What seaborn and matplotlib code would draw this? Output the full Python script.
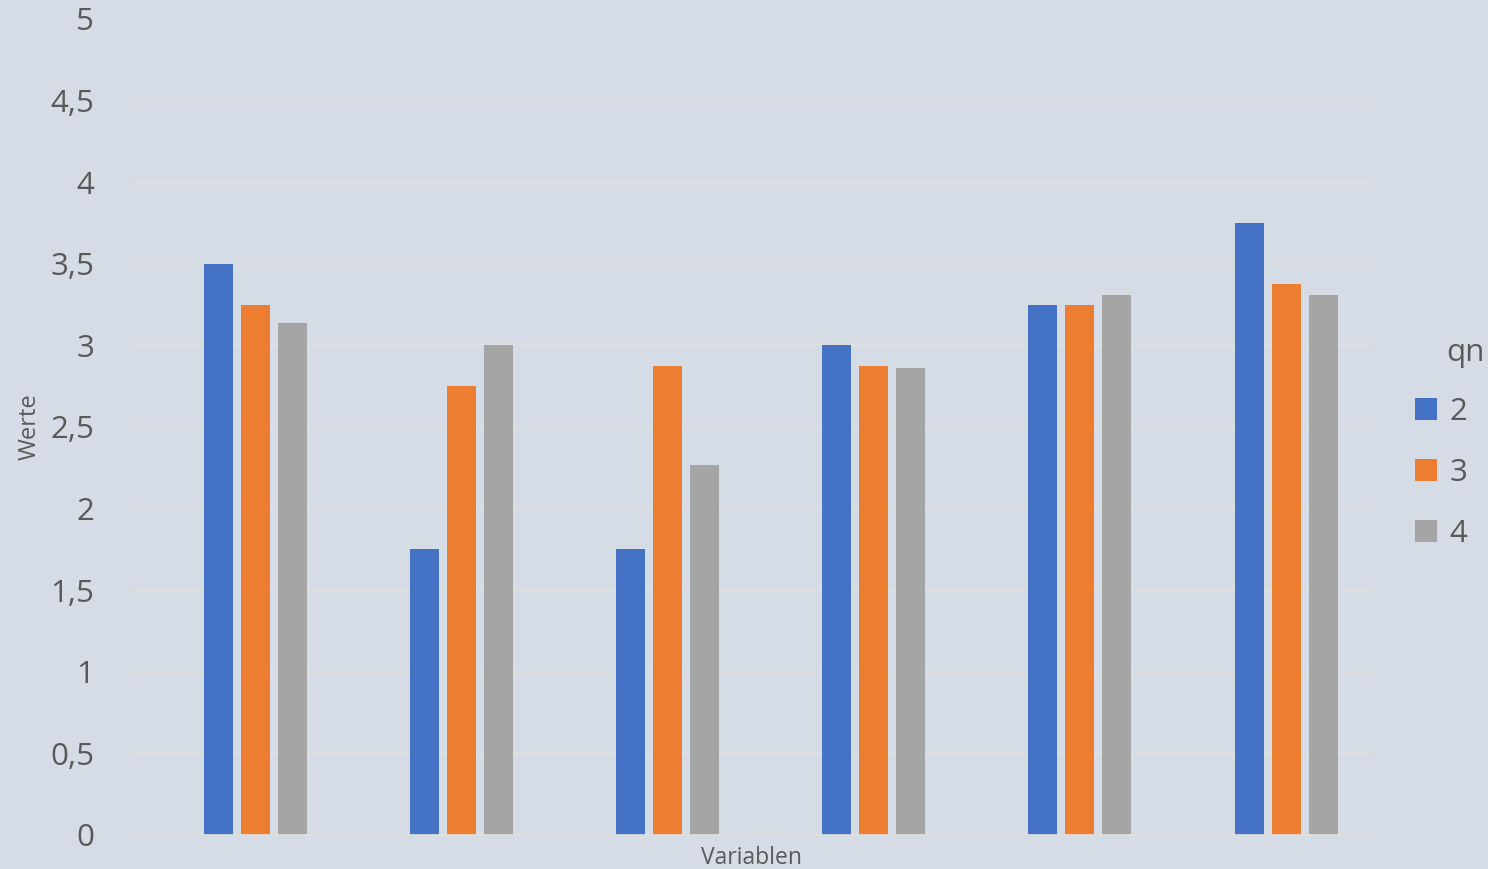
import pandas as pd
import seaborn as sns
import matplotlib.pyplot as plt

# values
groups = ["V1", "V2", "V3", "V4", "V5", "V6"]
qn_levels = ["2", "3", "4"]
werte_qn2 = [3.5, 1.75, 1.75, 3.0, 3.25, 3.75]
werte_qn3 = [3.25, 2.75, 2.875, 2.875, 3.25, 3.375]
werte_qn4 = [3.14, 3.0, 2.27, 2.86, 3.31, 3.31]
yticks = [0, 0.5, 1, 1.5, 2, 2.5, 3, 3.5, 4, 4.5, 5]

df = pd.DataFrame({
    "Variablen": groups * 3,
    "qn": [qn_levels[0]] * 6 + [qn_levels[1]] * 6 + [qn_levels[2]] * 6,
    "Werte": werte_qn2 + werte_qn3 + werte_qn4,
})

bg = "#D6DCE5"
grid_col = "#E2E0DC"
txt = "#595959"
palette = {"2": "#4472C4", "3": "#ED7D31", "4": "#A5A5A5"}

sns.set_style("white")
plt.rcParams["font.family"] = ["Open Sans", "DejaVu Sans"]

fig = plt.figure(figsize=(14.88, 8.69), dpi=100, facecolor=bg)
ax = fig.add_axes([133 / 1488, 34 / 869, (1370 - 133) / 1488, (835 - 19) / 869])
ax.set_facecolor(bg)

sns.barplot(data=df, x="Variablen", y="Werte", hue="qn", palette=palette,
            width=0.538, gap=0.216, saturation=1, linewidth=0, ax=ax, legend=True)

ax.set_xlim(-0.592, 5.407)
ax.set_ylim(0, 5)
ax.set_yticks(yticks)
ax.set_yticklabels([f"{t:g}".replace(".", ",") for t in yticks], fontsize=22.5, color=txt)
ax.set_xticks([])
ax.tick_params(axis="y", length=0, pad=28)
ax.yaxis.grid(True, color=grid_col, linewidth=1.2)
ax.set_axisbelow(True)
for s in ["top", "right", "left"]:
    ax.spines[s].set_visible(False)
ax.spines["bottom"].set_color(grid_col)
ax.spines["bottom"].set_linewidth(1.2)

ax.set_xlabel("Variablen", fontsize=16.5, color=txt, labelpad=8)
ax.set_ylabel("Werte", fontsize=17, color=txt, labelpad=6)

# legend entries, with the "qn" title set separately so it lines up with the labels
leg = ax.legend(loc="center left", bbox_to_anchor=(1.014, 0.4436),
                frameon=False, fontsize=22.5,
                handlelength=0.7, handleheight=0.7, handletextpad=0.4,
                labelspacing=1.0)
for t in leg.get_texts():
    t.set_color(txt)
fig.text(1446 / 1488, 1 - 353 / 869, "qn", fontsize=22.5, color=txt,
         ha="left", va="center")

fig.savefig("out.png", dpi=100, facecolor=bg)
